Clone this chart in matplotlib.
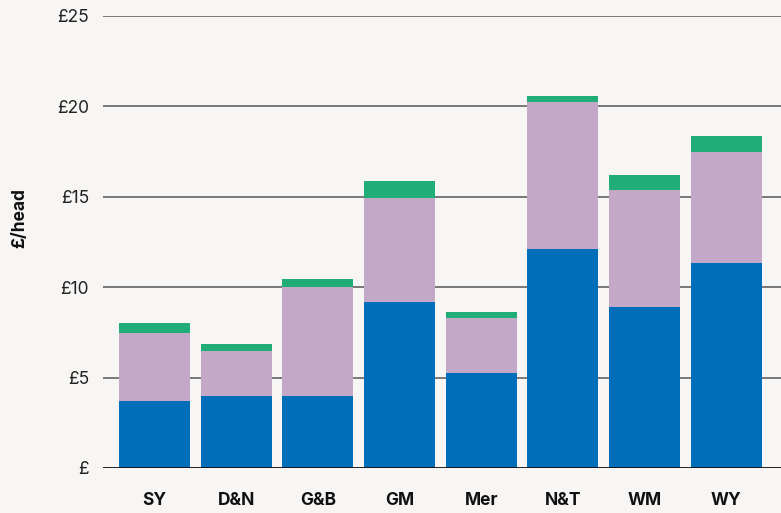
import numpy as np
import matplotlib.pyplot as plt

# === Data (£/head) ===
regions = ["SY", "D&N", "G&B", "GM", "Mer", "N&T", "WM", "WY"]
blue_vals = [3.7, 4.0, 4.0, 9.2, 5.25, 12.1, 8.9, 11.35]
purple_vals = [3.78, 2.45, 6.0, 5.75, 3.05, 8.15, 6.5, 6.15]
green_vals = [0.55, 0.42, 0.48, 0.92, 0.33, 0.32, 0.8, 0.86]

yticks = [0, 5, 10, 15, 20, 25]
ytick_labels = ["£", "£5", "£10", "£15", "£20", "£25"]

bg = "#f7f6f4"
c_blue = "#006eb9"
c_purple = "#c4a8c8"
c_green = "#20ad78"

plt.rcParams["font.family"] = ["Inter", "DejaVu Sans"]

fig = plt.figure(figsize=(7.81, 5.13), dpi=100, facecolor=bg)
ax = fig.add_axes([103 / 781, 1 - 468 / 513, 1 - 103 / 781, (468 - 16) / 513])
ax.set_facecolor(bg)

x = np.arange(len(regions))
blue = np.array(blue_vals)
purple = np.array(purple_vals)
green = np.array(green_vals)

w = 0.87
ax.bar(x, blue, width=w, color=c_blue, zorder=3)
ax.bar(x, purple, width=w, bottom=blue, color=c_purple, zorder=3)
ax.bar(x, green, width=w, bottom=blue + purple, color=c_green, zorder=3)

ax.set_ylim(0, 25)
ax.set_xlim(-0.63, 7.67)
ax.set_yticks(yticks)
ax.set_yticklabels(ytick_labels, fontsize=12.5, color="#222222")
ax.set_xticks(x)
ax.set_xticklabels(regions, fontsize=12.5, fontweight="bold", color="#111111")
ax.tick_params(axis="y", length=0, pad=10)
ax.tick_params(axis="x", length=0, pad=17)

for yv in yticks[1:]:
    ax.axhline(yv, color="#555555", lw=1.1, zorder=1)
ax.axhline(0, color="#111111", lw=1.3, zorder=4)

for s in ax.spines.values():
    s.set_visible(False)

ax.set_ylabel("£/head", fontsize=12.5, fontweight="bold", color="#111111", labelpad=21)
ax.yaxis.label.set_y(0.553)

fig.savefig("out.png", dpi=100, facecolor=bg)
